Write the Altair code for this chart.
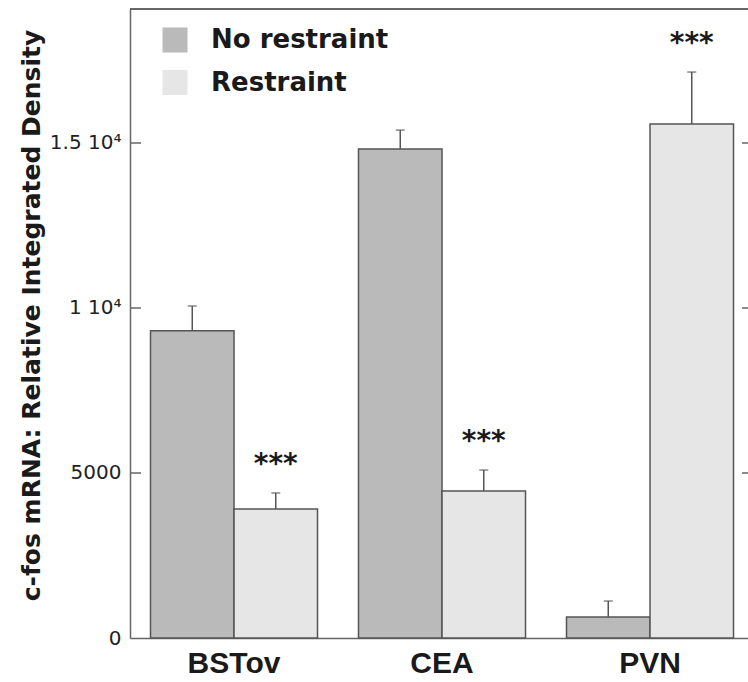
import altair as alt
import pandas as pd

regions = ["BSTov", "CEA", "PVN"]
groups = ["No restraint", "Restraint"]
mean_no = [9310, 14820, 640]
sem_no = [750, 570, 480]
mean_r = [3910, 4455, 15575]
sem_r = [485, 635, 1575]
stars_r = ["***", "***", "***"]
tick_values = [0, 5000, 10000, 15000]
tick_labels = ["0", "5000", "1 10⁴", "1.5 10⁴"]
colors = ["#bababa", "#e6e6e6"]

rows = []
for i, r in enumerate(regions):
    rows.append(dict(region=r, group=groups[0], mean=mean_no[i], upper=mean_no[i] + sem_no[i], star=""))
    rows.append(dict(region=r, group=groups[1], mean=mean_r[i], upper=mean_r[i] + sem_r[i], star=stars_r[i]))
df = pd.DataFrame(rows)
ticks_df = pd.DataFrame({"v": tick_values[1:]})

W, H = 618, 629
label_expr = ""
for v, l in zip(tick_values, tick_labels):
    label_expr += f"datum.value == {v} ? '{l}' : "
label_expr += "''"

xaxis = alt.Axis(title=None, labelAngle=0, labelFont="Liberation Sans", labelFontWeight="bold",
                 labelFontSize=30, labelColor="#1a1a1a", labelPadding=10, ticks=False,
                 domainColor="#666666", domainWidth=1.5, grid=False)
xscale = alt.Scale(paddingInner=0.197, paddingOuter=0.0841, align=0.586)
yscale = alt.Scale(domain=[0, 19060], nice=False, zero=True)
yaxis = alt.Axis(values=tick_values, labelExpr=label_expr, grid=False, ticks=False,
                 domainColor="#666666", domainWidth=1.5,
                 labelFont="DejaVu Sans", labelFontSize=20, labelColor="#222222", labelPadding=9,
                 title="c-fos mRNA: Relative Integrated Density", titleFont="DejaVu Sans",
                 titleFontWeight="bold", titleFontSize=25, titleColor="#1a1a1a",
                 titleX=-99, titleY=306, titleAngle=270, titleAlign="center", titleBaseline="middle")

X = alt.X("region:N", sort=regions, scale=xscale, axis=xaxis)
XO = alt.XOffset("group:N", sort=groups)

base = alt.Chart(df)
bars = base.mark_bar(stroke="#555555", strokeWidth=1.5).encode(
    x=X, xOffset=XO,
    y=alt.Y("mean:Q", scale=yscale, axis=yaxis),
    color=alt.Color("group:N", sort=groups, scale=alt.Scale(domain=groups, range=colors),
                    legend=alt.Legend(title=None, orient="none", legendX=32, legendY=18,
                                      symbolType="square", symbolSize=625, symbolStrokeWidth=0,
                                      symbolOpacity=1, labelLimit=0,
                                      labelFont="DejaVu Sans", labelFontWeight="bold",
                                      labelFontSize=26, labelColor="#1a1a1a", labelOffset=23,
                                      rowPadding=16.5)),
)
err = base.mark_rule(color="#555555", strokeWidth=1.5).encode(
    x=X, xOffset=XO, y=alt.Y("mean:Q", scale=yscale, axis=yaxis), y2="upper:Q")
caps = base.mark_tick(color="#555555", thickness=1.5, size=9, orient="horizontal").encode(
    x=X, xOffset=XO, y=alt.Y("upper:Q", scale=yscale, axis=yaxis))
stars = base.transform_filter("datum.star != ''").mark_text(
    font="DejaVu Sans", fontWeight="bold", fontSize=28, dy=-20, baseline="alphabetic",
    color="#1a1a1a").encode(x=X, xOffset=XO, y=alt.Y("upper:Q", scale=yscale, axis=yaxis), text="star:N")
lticks = alt.Chart(ticks_df).mark_rule(color="#666666", strokeWidth=1.5).encode(
    y=alt.Y("v:Q", scale=yscale, axis=yaxis), x=alt.value(0), x2=alt.value(11))
rticks = alt.Chart(ticks_df).mark_rule(color="#666666", strokeWidth=1.5).encode(
    y=alt.Y("v:Q", scale=yscale, axis=yaxis), x=alt.value(W - 6), x2=alt.value(W))
top = alt.Chart(ticks_df).mark_rule(color="#666666", strokeWidth=1.5).encode(
    y=alt.value(0), x=alt.value(0), x2=alt.value(W))

chart = alt.layer(bars, err, caps, stars, lticks, rticks, top).properties(
    width=W, height=H, autosize=alt.AutoSizeParams(type="none"),
    padding={"left": 130, "top": 9, "right": 0, "bottom": 44},
).configure_view(stroke=None).configure(background="white")

chart.save("out.html", embed_options={"renderer": "svg", "actions": False})
